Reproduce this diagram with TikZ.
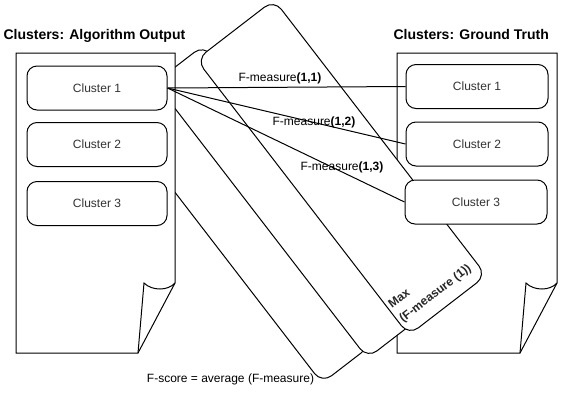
\documentclass[tikz,border=0pt]{standalone}
\usepackage{fontspec}
\setmainfont{Liberation Sans}
\begin{document}
\begin{tikzpicture}[x=1pt,y=1pt, line width=1pt, font=\fontsize{12}{14}\selectfont,
  doc/.style={draw=black, fill=white, line join=miter},
  card/.style={draw=black, fill=white, rounded corners=12pt},
  cbox/.style={draw=black, fill=white, rounded corners=10pt, minimum width=140pt, minimum height=44pt, inner sep=0pt, text=black!80},
  lab/.style={inner sep=0pt, anchor=base},
  ttl/.style={inner sep=0pt, anchor=base west, font=\bfseries\fontsize{14}{16}\selectfont},
  conn/.style={draw=black, line width=1pt}]
\useasboundingbox (0,0) rectangle (583,-408);

% right document (ground truth)
\draw[doc] (397,-53) -- (557,-53) -- (557,-283) -- (520,-353) -- (397,-353) -- cycle;
\draw (557,-283) .. controls (550,-291) and (534,-291) .. (526,-283) -- (520,-353);

% stacked rotated cards
\begin{scope}[rotate=-52.4]
  \draw[card] (151,21.3) rectangle (500,83);
  \draw[card] (160,72.5) rectangle (508,134);
  \draw[card] (167,119.3) rectangle (515,217.2);
\end{scope}

% left document (algorithm output)
\draw[doc] (16,-53) -- (175,-53) -- (175,-283) -- (138,-353) -- (16,-353) -- cycle;
\draw (175,-283) .. controls (168,-291) and (152,-291) .. (144,-283) -- (138,-353);

% titles
\node[ttl] (t1) at (3,-39.5) {Clusters: Algorithm Output};
\node[ttl] (t2) at (393,-39.5) {Clusters: Ground Truth};

% cluster boxes
\node[cbox] (l1) at (97,-88) {Cluster 1};
\node[cbox] (l2) at (97,-144.5) {Cluster 2};
\node[cbox] (l3) at (97,-203.5) {Cluster 3};
\node[cbox, minimum width=142pt] (r1) at (477,-86.5) {Cluster 1};
\node[cbox, minimum width=142pt] (r2) at (477,-144) {Cluster 2};
\node[cbox, minimum width=142pt] (r3) at (476,-202) {Cluster 3};

% connectors
\draw[conn] (l1.east) -- (r1.west);
\draw[conn] (l1.east) -- (r2.west);
\draw[conn] (l1.east) -- (r3.west);

% connector labels
\node[lab] (f11) at (280,-81) {F-measure\textbf{(1,1)}};
\node[lab] (f12) at (314,-125.5) {F-measure\textbf{(1,2)}};
\node[lab] (f13) at (342,-170.5) {F-measure\textbf{(1,3)}};

% card label
\node[inner sep=0pt, rotate=37.6, anchor=west, align=left, text=black!85, font=\bfseries\fontsize{12}{18}\selectfont] (mx) at (395.5,-313.7) {Max\\(F-measure (1))};

% bottom caption
\node[lab] (fs) at (230.5,-382) {F-score = average (F-measure)};
\end{tikzpicture}
\end{document}
